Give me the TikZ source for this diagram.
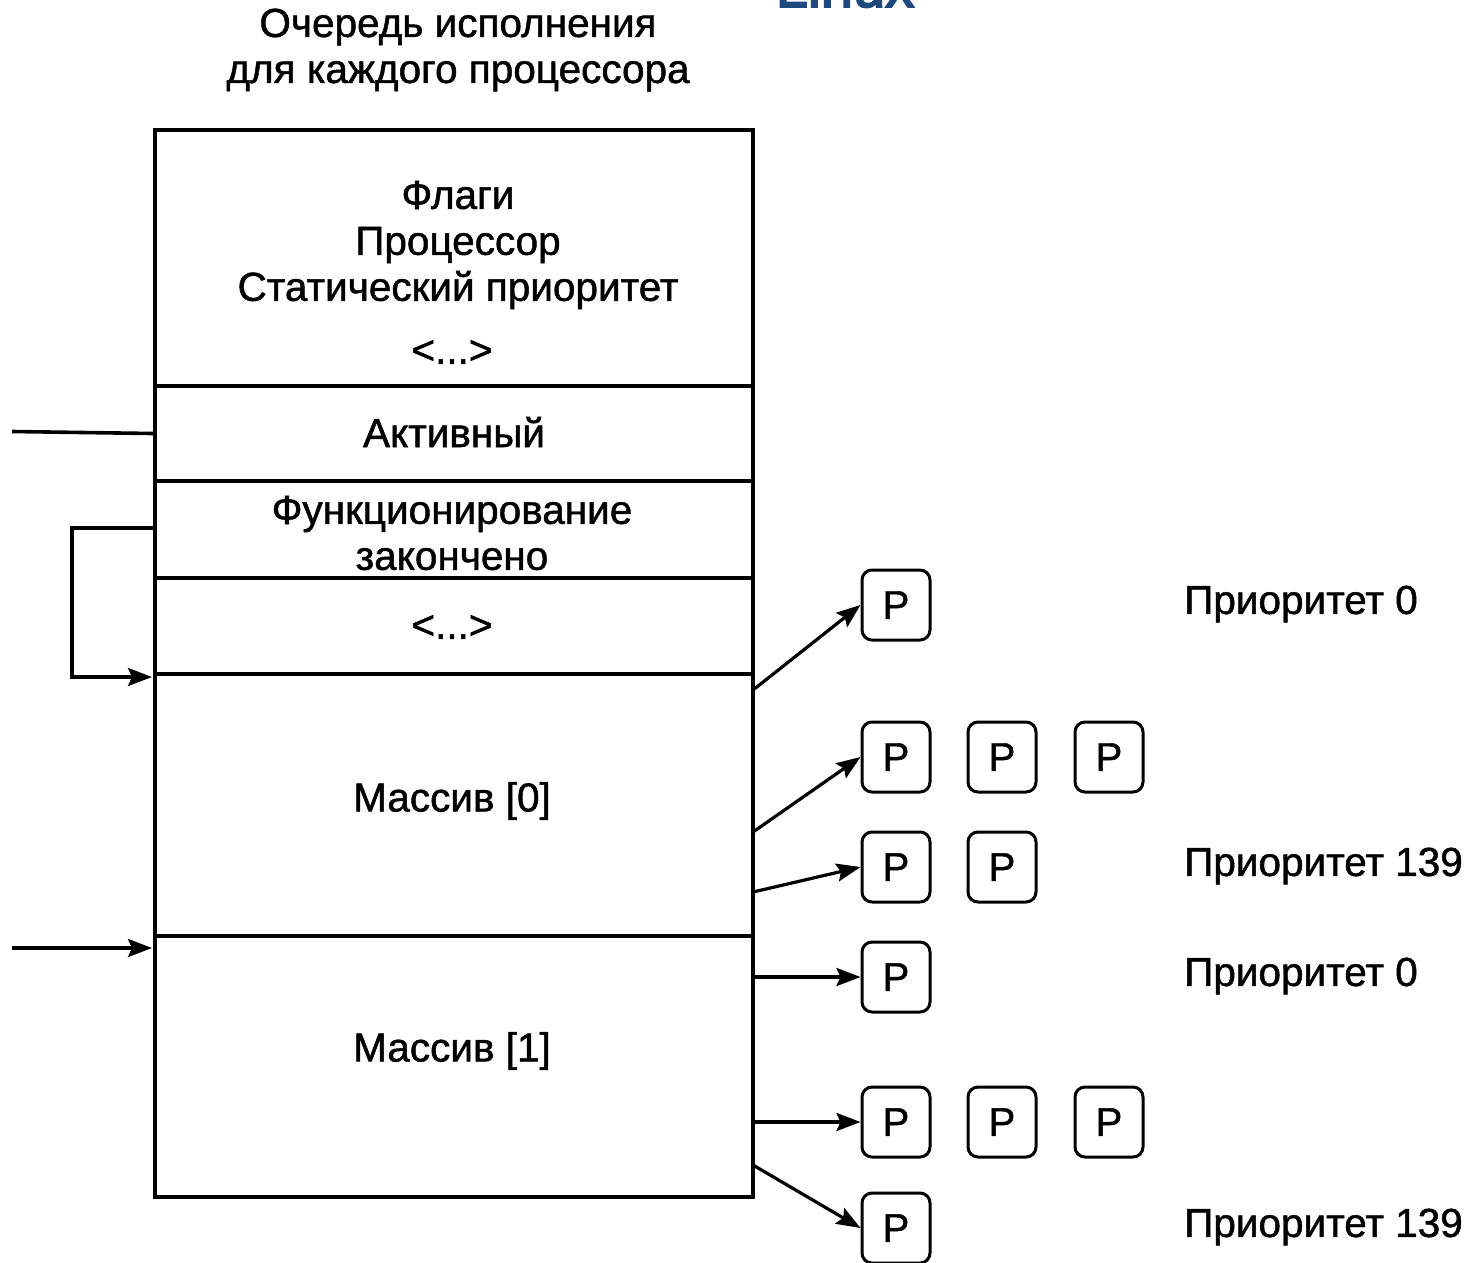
\documentclass[tikz,border=0pt]{standalone}
\usepackage{fontspec}
\setmainfont{Liberation Sans}[FakeBold=1.2]
\usetikzlibrary{arrows.meta}
\definecolor{titleblue}{RGB}{31,73,125}
\begin{document}
\begin{tikzpicture}[x=1pt,y=-1pt,
  cell/.style={draw,line width=4pt,minimum width=598pt,inner sep=0pt,anchor=north},
  txt/.style={font=\fontsize{40.5}{46}\selectfont,align=center,inner sep=0pt},
  lbl/.style={font=\fontsize{40.5}{46}\selectfont,inner sep=0pt,anchor=west},
  proc/.style={draw,line width=3pt,rounded corners=10pt,minimum width=68pt,minimum height=70pt,inner sep=0pt,font=\fontsize{40}{46}\selectfont},
  link/.style={line width=3.2pt,-{Stealth[length=24pt,width=18pt,inset=4pt]}},
  plain/.style={line width=3.6pt}]
\useasboundingbox (0,0) rectangle (1470,1262);

% heading, cut by the top edge
\begin{scope}
  \clip (0,0) rectangle (1470,1262);
  \node[font=\fontsize{58}{60}\selectfont\addfontfeature{FakeBold=3},text=titleblue,anchor=base,inner sep=0pt] (linuxhead) at (845,7) {Linux};
\end{scope}

% caption above the structure
\node[txt] (caption) at (458,50) {Очередь исполнения\\для каждого процессора};

% the run queue structure
\node[cell,minimum height=256pt] (flags)   at (454,128) {};
\node[cell,minimum height=95pt]  (active)  at (454,384) {};
\node[cell,minimum height=97pt]  (expired) at (454,479) {};
\node[cell,minimum height=96pt]  (dots)    at (454,576) {};
\node[cell,minimum height=262pt] (arr0)    at (454,672) {};
\node[cell,minimum height=261pt] (arr1)    at (454,934) {};

\node[txt] (flagstxt) at (458,245) {Флаги\\Процессор\\Статический приоритет};
\node[txt] (flagsdots) at (452,352) {<...>};
\node[txt] (activetxt) at (454,432) {Активный};
\node[txt] (expiredtxt) at (452,533) {Функционирование\\закончено};
\node[txt] (dotstxt) at (452,627) {<...>};
\node[txt] (arr0txt) at (452,801) {Массив [0]};
\node[txt] (arr1txt) at (452,1051) {Массив [1]};

% processes, one row per priority list
\node[proc] (p1)  at (896,605) {P};
\node[proc] (p2a) at (896,757) {P};
\node[proc] (p2b) at (1002,757) {P};
\node[proc] (p2c) at (1109,757) {P};
\node[proc] (p3a) at (896,867) {P};
\node[proc] (p3b) at (1002,867) {P};
\node[proc] (p4)  at (896,977) {P};
\node[proc] (p5a) at (896,1122) {P};
\node[proc] (p5b) at (1002,1122) {P};
\node[proc] (p5c) at (1109,1122) {P};
\node[proc] (p6)  at (896,1228) {P};

% priority labels
\node[lbl] (pr1) at (1184,604) {Приоритет 0};
\node[lbl] (pr2) at (1184,866) {Приоритет 139};
\node[lbl] (pr3) at (1184,976) {Приоритет 0};
\node[lbl] (pr4) at (1184,1227) {Приоритет 139};

% list heads on the right side of the arrays
\coordinate (s1) at (753,690);
\coordinate (s2) at (753,832);
\coordinate (s3) at (753,892);
\coordinate (s4) at (753,977);
\coordinate (s5) at (753,1122);
\coordinate (s6) at (753,1165);
\draw[link] (s1) -- (p1.west);
\draw[link] (s2) -- (p2a.west);
\draw[link] (s3) -- (p3a.west);
\draw[link] (s4) -- (p4.west);
\draw[link] (s5) -- (p5a.west);
\draw[link] (s6) -- (p6.west);

% active / expired pointers on the left
\coordinate (aend) at (12,431.5);
\draw[plain] (aend) -- (active.west);
\coordinate (ebend) at (72,528);
\coordinate (etgt) at (152,677);
\draw[link] (expired.west |- ebend) -- (ebend) |- (etgt);
\coordinate (bend) at (12,948);
\coordinate (btgt) at (152,948);
\draw[link] (bend) -- (btgt);
\end{tikzpicture}
\end{document}
